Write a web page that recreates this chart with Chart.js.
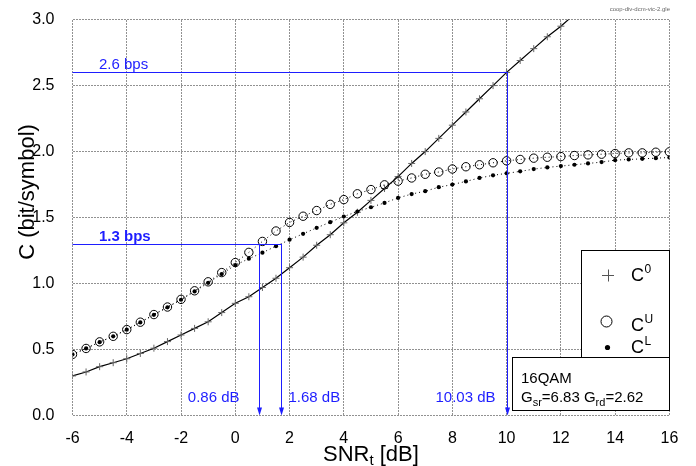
<!DOCTYPE html>
<html><head><meta charset="utf-8">
<script src="https://cdn.jsdelivr.net/npm/chart.js@4.4.0/dist/chart.umd.min.js"></script>
<style>html,body{margin:0;padding:0;background:#fff;}canvas{display:block;}</style>
</head><body>
<canvas id="c" width="696" height="466"></canvas>
<script>
// ---- data ----
const snrGrid = [-6,-5.5,-5,-4.5,-4,-3.5,-3,-2.5,-2,-1.5,-1,-0.5,0,0.5,1,1.5,2,2.5,3,3.5,4,4.5,5,5.5,6,6.5,7,7.5,8,8.5,9,9.5,10,10.5,11,11.5,12,12.5,13,13.5,14,14.5,15,15.5,16];
const capU = [0.463,0.508,0.558,0.600,0.651,0.707,0.765,0.822,0.880,0.945,1.013,1.083,1.159,1.236,1.319,1.398,1.463,1.510,1.553,1.600,1.636,1.680,1.712,1.748,1.776,1.800,1.828,1.845,1.868,1.885,1.900,1.915,1.930,1.940,1.950,1.957,1.962,1.970,1.975,1.980,1.985,1.990,1.990,1.995,1.998];
const capL = [0.463,0.508,0.556,0.600,0.650,0.705,0.763,0.820,0.877,0.940,1.005,1.072,1.140,1.188,1.234,1.283,1.332,1.377,1.422,1.465,1.508,1.546,1.578,1.611,1.649,1.678,1.700,1.730,1.750,1.774,1.800,1.820,1.835,1.850,1.867,1.880,1.890,1.900,1.910,1.920,1.935,1.940,1.945,1.950,1.955];
const snr0 = [-6,-5.5,-5,-4.5,-4,-3.5,-3,-2.5,-2,-1.5,-1,-0.5,0,0.5,1,1.5,2,2.5,3,3.5,4,4.5,5,5.5,6,6.5,7,7.5,8,8.5,9,9.5,10,10.5,11,11.5,12,12.5];
const cap0 = [0.30,0.33,0.37,0.40,0.43,0.47,0.51,0.56,0.61,0.66,0.71,0.78,0.85,0.90,0.97,1.04,1.12,1.20,1.29,1.37,1.46,1.54,1.63,1.72,1.81,1.91,2.00,2.10,2.20,2.30,2.40,2.50,2.60,2.69,2.78,2.87,2.95,3.04];
const xTicks = [-6,-4,-2,0,2,4,6,8,10,12,14,16];
const yTicks = [0,0.5,1,1.5,2,2.5,3];
const rateLevels = [2.6, 1.3];
const rateLabels = ['2.6 bps', '1.3 bps'];
const markSnr = [10.03, 0.86, 1.68];
const markRate = [2.6, 1.3, 1.3];
const markLabels = ['10.03 dB', '0.86 dB', '1.68 dB'];
const seriesNames = ['C', 'C', 'C'];
const seriesSups = ['0', 'U', 'L'];
const boxLines = ['16QAM'];
const gainSr = '6.83', gainRd = '2.62';

const FONT = "'Liberation Sans', Arial, Helvetica, sans-serif";
const BLUE = 'rgb(30,30,255)';

const toXY = (xs, ys) => ys.map((v, i) => ({x: xs[i], y: v}));

const dottedGrid = {
  id: 'dottedGrid',
  beforeDatasetsDraw(chart) {
    const {ctx, chartArea: a, scales: {x, y}} = chart;
    ctx.save();
    ctx.strokeStyle = '#222'; ctx.lineWidth = 1; ctx.setLineDash([1, 2]);
    const top = Math.round(a.top) + 0.5, bot = Math.round(a.bottom) + 0.5;
    const lef = Math.round(a.left) + 0.5, rig = Math.round(a.right) + 0.5;
    x.ticks.forEach(t => {
      const px = Math.round(x.getPixelForValue(t.value) - 0.5) + 0.5;
      ctx.beginPath(); ctx.moveTo(px, top); ctx.lineTo(px, bot); ctx.stroke();
    });
    y.ticks.forEach(t => {
      const py = Math.round(y.getPixelForValue(t.value) - 0.5) + 0.5;
      ctx.beginPath(); ctx.moveTo(lef, py); ctx.lineTo(rig, py); ctx.stroke();
    });
    ctx.restore();
  }
};

const overlay = {
  id: 'overlay',
  afterDatasetsDraw(chart) {
    const {ctx, chartArea: a, scales: {x, y}} = chart;
    const y0 = y.getPixelForValue(0);
    ctx.save();
    ctx.strokeStyle = BLUE; ctx.fillStyle = BLUE; ctx.lineWidth = 1;
    rateLevels.forEach((r, k) => {
      const py = Math.round(y.getPixelForValue(r)) + 0.5;
      let maxX = -Infinity;
      markSnr.forEach((s, i) => { if (markRate[i] === r) maxX = Math.max(maxX, s); });
      ctx.beginPath(); ctx.moveTo(a.left, py); ctx.lineTo(x.getPixelForValue(maxX) + 0.5, py); ctx.stroke();
      ctx.font = (k === 1 ? 'bold ' : '') + '15px ' + FONT;
      ctx.textAlign = 'left'; ctx.textBaseline = 'alphabetic';
      ctx.fillText(rateLabels[k], a.left + 26.5, py - 3.5);
    });
    markSnr.forEach((s, i) => {
      const px = Math.round(x.getPixelForValue(s)) + 0.5;
      const py = y.getPixelForValue(markRate[i]);
      ctx.beginPath(); ctx.moveTo(px, py); ctx.lineTo(px, y0 - 6); ctx.stroke();
      ctx.beginPath(); ctx.moveTo(px - 2.5, y0 - 8); ctx.lineTo(px + 2.5, y0 - 8); ctx.lineTo(px, y0); ctx.closePath(); ctx.fill();
      ctx.font = '15px ' + FONT; ctx.textBaseline = 'alphabetic';
      if (i === 2) { ctx.textAlign = 'left'; ctx.fillText(markLabels[i], px + 7, y0 - 14); }
      else { ctx.textAlign = 'right'; ctx.fillText(markLabels[i], px - (i === 1 ? 20 : 12), y0 - 14); }
    });
    ctx.restore();

    // legend box
    ctx.save();
    ctx.fillStyle = '#fff'; ctx.strokeStyle = '#000'; ctx.lineWidth = 1;
    const lx0 = 581.5, ly0 = 250.5, lx1 = Math.round(a.right) + 0.5, ly1 = 357.5;
    ctx.fillRect(lx0, ly0, lx1 - lx0, ly1 - ly0); ctx.strokeRect(lx0, ly0, lx1 - lx0, ly1 - ly0);
    const bx0 = 512.5, by1 = 410.5;
    ctx.fillRect(bx0, ly1, lx1 - bx0, by1 - ly1); ctx.strokeRect(bx0, ly1, lx1 - bx0, by1 - ly1);
    ctx.strokeStyle = '#555';
    ctx.beginPath(); ctx.moveTo(602, 275.5); ctx.lineTo(614, 275.5); ctx.moveTo(608.5, 269.5); ctx.lineTo(608.5, 281.5); ctx.stroke();
    ctx.strokeStyle = '#000';
    ctx.beginPath(); ctx.arc(606.5, 321.5, 5.5, 0, Math.PI * 2); ctx.stroke();
    ctx.fillStyle = '#000';
    ctx.beginPath(); ctx.arc(607.5, 347.5, 2.6, 0, Math.PI * 2); ctx.fill();
    const baselines = [280.5, 330.5, 352.5];
    ctx.textAlign = 'left'; ctx.textBaseline = 'alphabetic';
    seriesNames.forEach((n, i) => {
      ctx.font = '18px ' + FONT;
      ctx.fillText(n, 631, baselines[i]);
      const w = ctx.measureText(n).width;
      ctx.font = '12px ' + FONT;
      ctx.fillText(seriesSups[i], 631 + w + 0.5, baselines[i] - 8);
    });
    ctx.font = '15px ' + FONT;
    ctx.fillText(boxLines[0], 521, 383);
    let cx = 521; const by = 402;
    const part = (t, sz, dy) => { ctx.font = sz + 'px ' + FONT; ctx.fillText(t, cx, by + dy); cx += ctx.measureText(t).width; };
    part('G', 15, 0); part('sr', 11, 4); part('=' + gainSr + ' G', 15, 0); part('rd', 11, 4); part('=' + gainRd, 15, 0);
    ctx.restore();

    // axis titles
    ctx.save();
    ctx.fillStyle = '#000'; ctx.textBaseline = 'alphabetic';
    ctx.font = '22px ' + FONT;
    const t1 = 'SNR', t3 = ' [dB]';
    const w1 = ctx.measureText(t1).width, w3 = ctx.measureText(t3).width;
    ctx.font = '15px ' + FONT; const w2 = ctx.measureText('t').width;
    let sx = (a.left + a.right) / 2 - (w1 + w2 + w3) / 2;
    ctx.font = '22px ' + FONT; ctx.fillText(t1, sx, 461); sx += w1;
    ctx.font = '15px ' + FONT; ctx.fillText('t', sx, 465); sx += w2;
    ctx.font = '22px ' + FONT; ctx.fillText(t3, sx, 461);
    ctx.translate(34, 192); ctx.rotate(-Math.PI / 2);
    ctx.textAlign = 'center'; ctx.font = '22px ' + FONT;
    ctx.fillText('C (bit/symbol)', 0, 0);
    ctx.restore();

    ctx.save();
    ctx.fillStyle = '#666'; ctx.font = '6px ' + FONT; ctx.textAlign = 'right';
    ctx.fillText('coop-div-dcm-vic-2.gle', 670, 11);
    ctx.restore();
  }
};

new Chart(document.getElementById('c'), {
  type: 'scatter',
  data: {
    datasets: [
      { label: 'CL', data: toXY(snrGrid, capL), showLine: true, borderColor: '#000', borderWidth: 1, borderDash: [1, 3],
        pointStyle: 'circle', pointRadius: 2.1, pointBackgroundColor: '#000', pointBorderWidth: 0, clip: 0 },
      { label: 'CU', data: toXY(snrGrid, capU), showLine: true, borderColor: '#000', borderWidth: 1, borderDash: [1, 3],
        pointStyle: 'circle', pointRadius: 4.2, pointBackgroundColor: 'rgba(0,0,0,0)', pointBorderColor: '#000', pointBorderWidth: 1, clip: 0 },
      { label: 'C0', data: toXY(snr0, cap0), showLine: true, borderColor: '#000', borderWidth: 1.2,
        pointStyle: 'cross', pointRadius: 3.5, pointBorderColor: '#666', pointBorderWidth: 1, clip: 0 }
    ]
  },
  options: {
    responsive: false, devicePixelRatio: 1, animation: false, events: [],
    layout: { padding: { top: 18.5, right: 26.6, left: 0, bottom: 0 } },
    plugins: { legend: { display: false }, tooltip: { enabled: false } },
    scales: {
      x: { type: 'linear', min: -6, max: 16,
        afterBuildTicks: s => { s.ticks = xTicks.map(v => ({value: v})); },
        afterFit: s => { s.height = 50.5; },
        grid: { display: false },
        border: { display: false },
        ticks: { color: '#000', font: { family: FONT, size: 16 }, padding: 5, maxRotation: 0 } },
      y: { type: 'linear', min: 0, max: 3,
        afterBuildTicks: s => { s.ticks = yTicks.map(v => ({value: v})); },
        afterFit: s => { s.width = 72.5; },
        grid: { display: false },
        border: { display: false },
        ticks: { color: '#000', font: { family: FONT, size: 16 }, padding: 10, callback: v => v.toFixed(1) } }
    }
  },
  plugins: [dottedGrid, overlay]
});
</script>
</body></html>
